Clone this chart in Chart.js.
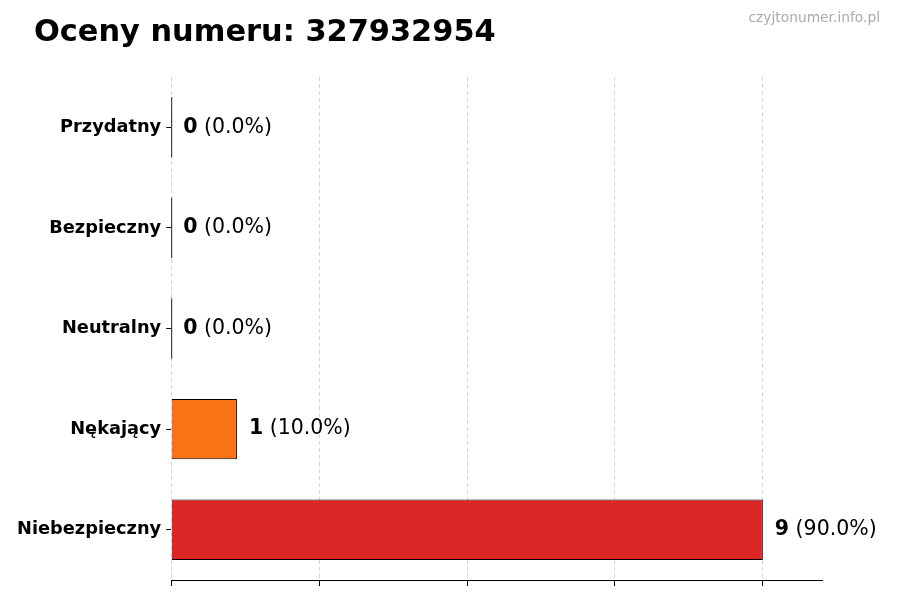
<!DOCTYPE html>
<html>
<head>
<meta charset="utf-8">
<script src="https://cdn.jsdelivr.net/npm/chart.js@4/dist/chart.umd.min.js"></script>
<style>
  html, body { margin: 0; padding: 0; background: #fff; }
  #wrap { width: 900px; height: 600px; position: relative; }
</style>
</head>
<body>
<div id="wrap"><canvas id="chart"></canvas></div>
<script>
const categories = ['Przydatny', 'Bezpieczny', 'Neutralny', 'Nękający', 'Niebezpieczny'];
const counts = [0, 0, 0, 1, 9];
const percents = [0.0, 0.0, 0.0, 10.0, 90.0];
const barColors = ['#3b82f6', '#22c55e', '#9ca3af', '#f97316', '#dc2626'];
const xTicks = [0, 2.25, 4.5, 6.75, 9];
const xMax = 9.9;
const titleText = 'Oceny numeru: 327932954';
const watermark = 'czyjtonumer.info.pl';

const FONT = "'DejaVu Sans', sans-serif";

// title, watermark, value labels and the edge of empty bars
const decorations = {
  id: 'decorations',
  afterDatasetsDraw(chart) {
    const ctx = chart.ctx;
    const meta = chart.getDatasetMeta(0);
    ctx.save();
    meta.data.forEach((bar, i) => {
      if (counts[i] === 0) {
        ctx.strokeStyle = '#222';
        ctx.lineWidth = 1;
        ctx.beginPath();
        ctx.moveTo(bar.base + 0.5, bar.y - bar.height / 2);
        ctx.lineTo(bar.base + 0.5, bar.y + bar.height / 2);
        ctx.stroke();
      }
      const x = bar.x + 12;
      ctx.textBaseline = 'middle';
      ctx.textAlign = 'left';
      ctx.fillStyle = '#000';
      ctx.font = 'bold 20.5px ' + FONT;
      const num = String(counts[i]);
      ctx.fillText(num, x, bar.y);
      const w = ctx.measureText(num).width;
      ctx.font = '20.5px ' + FONT;
      ctx.fillText(' (' + percents[i].toFixed(1) + '%)', x + w, bar.y);
    });
    ctx.font = 'bold 30.4px ' + FONT;
    ctx.fillStyle = '#000';
    ctx.textAlign = 'left';
    ctx.textBaseline = 'alphabetic';
    ctx.fillText(titleText, 34, 41);
    ctx.font = '13.8px ' + FONT;
    ctx.fillStyle = '#aaaaaa';
    ctx.textAlign = 'right';
    ctx.fillText(watermark, 880, 22);
    ctx.restore();
  }
};

new Chart(document.getElementById('chart'), {
  type: 'bar',
  data: {
    labels: categories,
    datasets: [{
      data: counts,
      backgroundColor: barColors,
      borderColor: '#000',
      borderWidth: 1,
      barPercentage: 0.6,
      categoryPercentage: 1.0,
    }]
  },
  options: {
    indexAxis: 'y',
    responsive: true,
    maintainAspectRatio: false,
    animation: false,
    layout: { padding: { left: 12, right: 78, top: 77, bottom: 14 } },
    plugins: { legend: { display: false }, tooltip: { enabled: false } },
    scales: {
      x: {
        min: 0, max: xMax,
        afterBuildTicks: axis => { axis.ticks = xTicks.map(v => ({ value: v })); },
        ticks: { display: false },
        grid: { color: '#d6d6d6', tickLength: 6, tickColor: '#000', tickBorderDash: [] },
        border: { display: true, color: '#000', width: 1, dash: [4, 3] }
      },
      y: {
        ticks: { color: '#000', font: { family: FONT, size: 17.8, weight: 'bold' }, padding: 5 },
        grid: { drawOnChartArea: false, offset: false, tickLength: 5, tickColor: '#000' },
        border: { display: false }
      }
    }
  },
  plugins: [decorations]
});
</script>
</body>
</html>
